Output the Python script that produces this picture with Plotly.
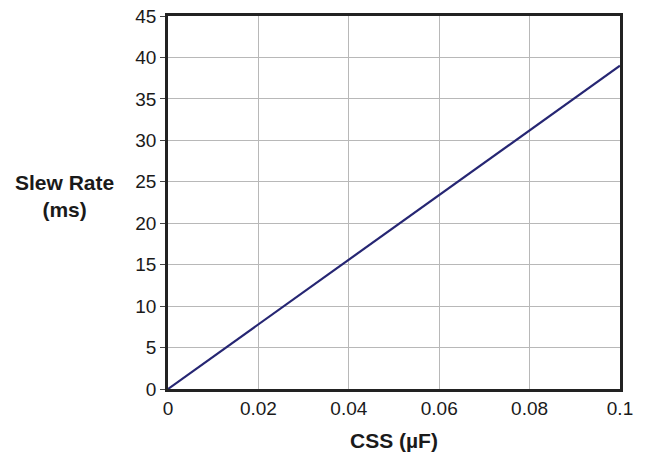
import plotly.graph_objects as go

css_uF = [0, 0.1]
slew_ms = [0, 39]
x_ticks = [0, 0.02, 0.04, 0.06, 0.08, 0.1]
x_tick_labels = ["0", "0.02", "0.04", "0.06", "0.08", "0.1"]
y_ticks = [0, 5, 10, 15, 20, 25, 30, 35, 40, 45]

fig = go.Figure()
fig.add_trace(go.Scatter(x=css_uF, y=slew_ms, mode="lines",
                         line=dict(color="#262673", width=2.2), showlegend=False))

fig.update_layout(
    template="none",
    width=645, height=456,
    margin=dict(l=168, r=25, t=16, b=67),
    paper_bgcolor="white", plot_bgcolor="white",
    font=dict(family="Liberation Sans, Arial, sans-serif", size=19, color="#1a1a1a"),
    xaxis=dict(range=[0, 0.1], tickvals=x_ticks, ticktext=x_tick_labels,
               showgrid=True, gridcolor="#b8b8b8", gridwidth=1,
               showline=True, linecolor="#222222", linewidth=2.5, mirror=True,
               ticks="", zeroline=False, fixedrange=True, automargin=False,
               ticklabeloverflow="allow"),
    yaxis=dict(range=[0, 45], tickvals=y_ticks,
               showgrid=True, gridcolor="#b8b8b8", gridwidth=1,
               showline=True, linecolor="#222222", linewidth=2.5, mirror=True,
               ticks="outside", ticklen=5, tickcolor="#444444", tickwidth=1,
               zeroline=False, fixedrange=True, automargin=False,
               ticklabeloverflow="allow"),
    annotations=[
        dict(text="<b>Slew Rate</b><br><b>(ms)</b>", xref="paper", yref="paper",
             x=-0.23, y=0.517, xanchor="center", yanchor="middle", showarrow=False,
             font=dict(size=21, color="#1a1a1a"), align="center"),
        dict(text="<b>CSS (µF)</b>", xref="paper", yref="paper",
             x=0.5, y=-0.137, xanchor="center", yanchor="middle", showarrow=False,
             font=dict(size=21, color="#1a1a1a")),
    ],
)

fig.write_html("out.html", config={"displayModeBar": False},
               post_script="document.body.style.margin='0';")
